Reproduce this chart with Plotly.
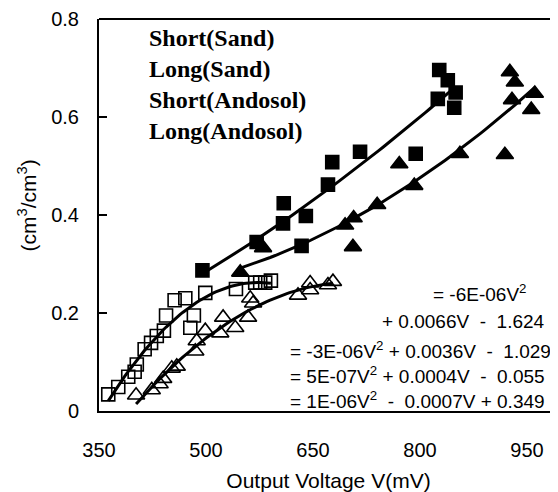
import numpy as np
import plotly.graph_objects as go

series_names = ["Short(Sand)", "Long(Sand)", "Short(Andosol)", "Long(Andosol)"]

# Filled squares
fsq_v = [495, 571, 608, 609, 634, 640, 671, 677, 716, 794, 825, 827, 839, 848, 850]
fsq_y = [0.287, 0.345, 0.383, 0.424, 0.337, 0.398, 0.462, 0.508, 0.529, 0.525, 0.637, 0.696, 0.675, 0.619, 0.650]

# Filled triangles
ftr_v = [548, 580, 695, 706, 707, 740, 771, 792, 856, 919, 926, 929, 933, 956, 961]
ftr_y = [0.283, 0.333, 0.379, 0.335, 0.394, 0.421, 0.504, 0.460, 0.525, 0.523, 0.692, 0.635, 0.671, 0.615, 0.648]

# Open squares
osq_v = [363, 377, 391, 400, 403, 414, 423, 431, 441, 444, 456, 471, 478, 483, 499, 542, 569, 576, 583, 591]
osq_y = [0.034, 0.049, 0.070, 0.080, 0.095, 0.126, 0.139, 0.153, 0.164, 0.195, 0.226, 0.230, 0.170, 0.195, 0.241, 0.249, 0.262, 0.262, 0.262, 0.266]

# Open triangles
otr_v = [402, 424, 435, 440, 452, 459, 485, 487, 499, 520, 524, 541, 559, 562, 566, 629, 646, 646, 671, 678]
otr_y = [0.032, 0.043, 0.055, 0.066, 0.087, 0.091, 0.122, 0.143, 0.164, 0.159, 0.191, 0.170, 0.191, 0.230, 0.220, 0.236, 0.247, 0.261, 0.257, 0.264]

equations = [
    "= -6E-06V<sup>2</sup>",
    "+ 0.0066V\u00a0 - \u00a01.624",
    "= -3E-06V<sup>2</sup> + 0.0036V\u00a0 - \u00a01.029",
    "= 5E-07V<sup>2</sup> + 0.0004V\u00a0 - \u00a00.055",
    "= 1E-06V<sup>2</sup>\u00a0 - \u00a00.0007V + 0.349",
]
eq_x = [951, 978, 987, 978, 978]
eq_y = [0.241, 0.182, 0.124, 0.074, 0.022]

x_ticks = [350, 500, 650, 800, 950]
y_ticks = [0, 0.2, 0.4, 0.6, 0.8]

series = [
    (series_names[0], fsq_v, fsq_y, "square"),
    (series_names[1], ftr_v, ftr_y, "triangle-up"),
    (series_names[2], osq_v, osq_y, "square-open"),
    (series_names[3], otr_v, otr_y, "triangle-up-open"),
]

fig = go.Figure()
for name, vx, vy, sym in series:
    size = 13 if "square" in sym else 15
    fig.add_trace(go.Scatter(
        x=vx, y=vy, mode="markers", name=name,
        marker=dict(symbol=sym, size=size, color="black",
                    line=dict(color="black", width=1.6)),
        showlegend=False))
    coef = np.polyfit(vx, vy, 2)
    xs = np.linspace(min(vx), max(vx), 60)
    fig.add_trace(go.Scatter(
        x=xs, y=np.polyval(coef, xs), mode="lines",
        line=dict(color="black", width=3), showlegend=False, hoverinfo="skip"))

legend_y = [0.762, 0.697, 0.634, 0.572]
for name, ly in zip(series_names, legend_y):
    fig.add_annotation(x=417, y=ly, xref="x", yref="y", text="<b>" + name + "</b>",
                       showarrow=False, xanchor="left", yanchor="middle",
                       font=dict(family="Liberation Serif, Times New Roman, serif", size=24, color="black"))

for t, ex, ey in zip(equations, eq_x, eq_y):
    fig.add_annotation(x=ex, y=ey, xref="x", yref="y", text=t, showarrow=False,
                       xanchor="right", yanchor="middle",
                       font=dict(family="Liberation Sans, Arial, sans-serif", size=19, color="black"))

# y-axis title
fig.add_annotation(x=-0.157, y=0.524, xref="paper", yref="paper",
                   text="(cm<sup>3</sup>/cm<sup>3</sup>)", textangle=-90, showarrow=False,
                   xanchor="center", yanchor="middle",
                   font=dict(family="Liberation Sans, Arial, sans-serif", size=21, color="black"))

# page body has an 8px margin: size and margins compensate so the plot lands where the reference has it
fig.update_layout(
    width=550, height=484,
    margin=dict(l=91, r=0, t=11, b=81),
    paper_bgcolor="white", plot_bgcolor="white",
    font=dict(family="Liberation Sans, Arial, sans-serif", size=20, color="black"),
    xaxis=dict(range=[350, 993.5], tickvals=x_ticks, ticktext=[str(v) for v in x_ticks],
               showgrid=False, zeroline=False, showline=True, linecolor="black", linewidth=2,
               mirror=False, ticks="", ticklabelstandoff=20,
               title=dict(text="Output Voltage V(mV)", standoff=17,
                          font=dict(size=21))),
    yaxis=dict(range=[0, 0.8], tickvals=y_ticks, ticktext=["0", "0.2", "0.4", "0.6", "0.8"],
               showgrid=False, zeroline=False, showline=True, linecolor="black", linewidth=2,
               ticks="inside", ticklen=8, tickwidth=1.5, tickcolor="black",
               ticklabelstandoff=14),
)
fig.add_shape(type="line", xref="paper", yref="paper", x0=0, x1=1, y0=1, y1=1,
              line=dict(color="black", width=2))

fig.write_html("out.html")
